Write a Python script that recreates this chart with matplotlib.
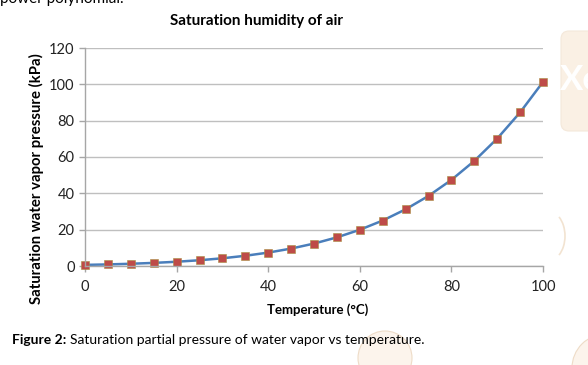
import matplotlib.pyplot as plt
from matplotlib.patches import Circle, FancyBboxPatch, Arc

plt.rcParams['font.family'] = ['Lato', 'DejaVu Sans']

# Données
temperature = [0, 5, 10, 15, 20, 25, 30, 35, 40, 45, 50,
               55, 60, 65, 70, 75, 80, 85, 90, 95, 100]
pression = [0.61, 0.87, 1.23, 1.71, 2.34, 3.17, 4.25, 5.63, 7.38, 9.59, 12.35,
            15.76, 19.94, 25.03, 31.19, 38.58, 47.39, 57.83, 70.14, 84.55, 101.33]
x_ticks = [0, 20, 40, 60, 80, 100]
y_ticks = [0, 20, 40, 60, 80, 100, 120]

W, H = 588, 365
fig = plt.figure(figsize=(W / 100, H / 100), dpi=100)

# Fond de page (filigranes décoratifs), en coordonnées pixels
bg = fig.add_axes([0, 0, 1, 1], zorder=-5)
bg.set_xlim(0, W)
bg.set_ylim(H, 0)
bg.axis('off')
bg.add_patch(FancyBboxPatch((561, 31), 60, 100, boxstyle='round,pad=0,rounding_size=8',
                            facecolor='#FAF0E4', edgecolor='#F4E8DA', linewidth=0.8))
bg.text(560, 80, "Xe", fontsize=25, fontweight='bold', color='white', va='center', ha='left')
bg.add_patch(Arc((548, 236), 34, 50, theta1=-60, theta2=60, color='#F2E3D1', linewidth=1.2))
bg.add_patch(Circle((385, 358), 27, facecolor='#FCF4EC', edgecolor='#EEDCC7', linewidth=0.8))
bg.add_patch(Circle((606, 368), 34, facecolor='#FCF4EC', edgecolor='#EEDCC7', linewidth=0.8))

ax = fig.add_axes([85 / W, 1 - 266 / H, 458 / W, 218 / H])
ax.set_facecolor('none')

ax.plot(temperature, pression, color='#4A7EBB', linewidth=1.8, zorder=2,
        marker='s', markersize=5.5, markerfacecolor='#BE4B48',
        markeredgecolor='#A89040', markeredgewidth=0.4, clip_on=False)

ax.set_xlim(0, 100)
ax.set_ylim(0, 120)
ax.set_xticks(x_ticks)
ax.set_yticks(y_ticks)
ax.grid(axis='y', color='#BFBFBF', linewidth=1.0, zorder=0)
ax.set_axisbelow(True)

for s in ['top', 'right']:
    ax.spines[s].set_visible(False)
for s in ['left', 'bottom']:
    ax.spines[s].set_color('#A6A6A6')
    ax.spines[s].set_linewidth(1.0)
ax.tick_params(axis='both', colors='#A6A6A6', labelcolor='#222222',
               labelsize=10.5, length=4, width=1.0, direction='out')
ax.tick_params(axis='x', pad=6)

# Titres placés comme dans le graphique Excel d'origine
fig.text(256 / W, 1 - 21 / H, "Saturation humidity of air", fontsize=11,
         fontweight='bold', ha='center', va='center')
fig.text(318 / W, 1 - 310 / H, "Temperature (°C)", fontsize=9.5,
         fontweight='bold', ha='center', va='center')
fig.text(36 / W, 1 - 179 / H, "Saturation water vapor pressure (kPa)", fontsize=10.7,
         fontweight='bold', ha='center', va='center', rotation=90)

# Texte de la page autour du graphique
fig.text(0.0, 1 - (-1) / H, "power polynomial.", fontsize=11, va='center', ha='left')
label = fig.text(12 / W, 1 - 340 / H, "Figure 2: ", fontsize=10, fontweight='bold', va='center')
renderer = fig.canvas.get_renderer()
bb = label.get_window_extent(renderer)
fig.text(bb.x1 / W, 1 - 340 / H, "Saturation partial pressure of water vapor vs temperature.",
         fontsize=10, va='center')

fig.savefig("out.png", dpi=100)
